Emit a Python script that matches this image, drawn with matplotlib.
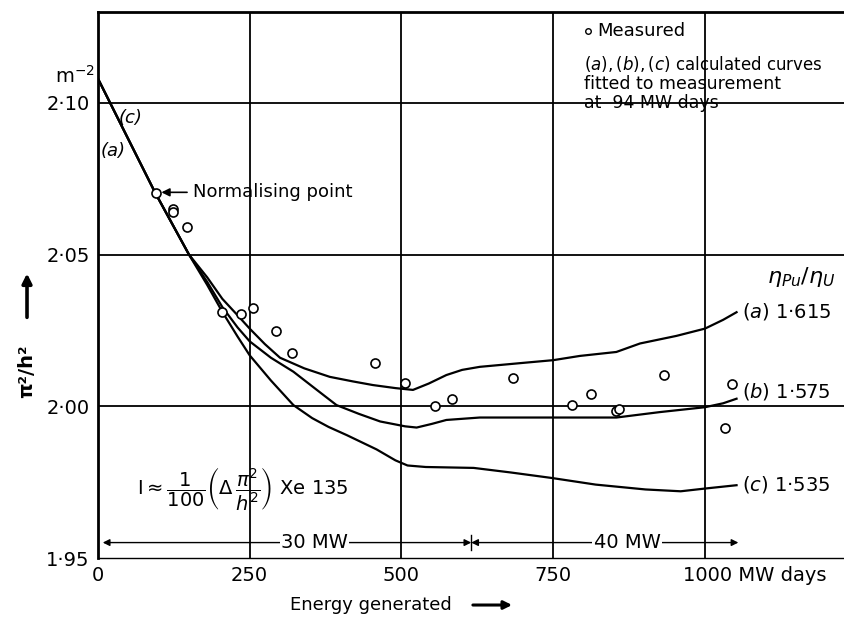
import numpy as np
import matplotlib.pyplot as plt
from matplotlib.patches import FancyArrowPatch
from matplotlib.transforms import ScaledTranslation

plt.rcParams['font.family'] = ['DejaVu Sans']
plt.rcParams['mathtext.fontset'] = 'dejavusans'

# Gemessene Punkte (MW-Tage, pi^2/h^2 in m^-2)
meas_E = [95, 123, 124, 147, 205, 236, 255, 294, 320, 456, 506, 555, 583,
          684, 781, 812, 854, 858, 933, 1033, 1044]
meas_Y = [2.0704, 2.0651, 2.0640, 2.0590, 2.0310, 2.0305, 2.0324, 2.0247,
          2.0175, 2.0144, 2.0078, 2.0002, 2.0024, 2.0092, 2.0003, 2.0040,
          1.9985, 1.9992, 2.0103, 1.9930, 2.0075]

# Berechnete Kurven (a), (b), (c)
a_E = [0, 94, 150, 180, 205, 230, 250, 275, 300, 340, 382, 420, 453, 490,
       519, 545, 574, 600, 629, 700, 750, 794, 854, 893, 953, 1000, 1030, 1052]
a_Y = [2.108, 2.0705, 2.050, 2.0425, 2.0354, 2.0300, 2.0256, 2.0205, 2.0160,
       2.0125, 2.0097, 2.0082, 2.0070, 2.0060, 2.0054, 2.0075, 2.0103, 2.0120,
       2.0130, 2.0143, 2.0152, 2.0166, 2.0179, 2.0207, 2.0232, 2.0256, 2.0285,
       2.0310]

b_E = [0, 94, 150, 180, 205, 230, 250, 285, 322, 360, 393, 430, 465, 506,
       525, 550, 574, 629, 794, 854, 926, 1000, 1030, 1052]
b_Y = [2.108, 2.0705, 2.050, 2.041, 2.0327, 2.0260, 2.0214, 2.0160, 2.0114,
       2.0055, 2.0004, 1.9975, 1.9950, 1.9934, 1.9930, 1.9942, 1.9955, 1.9963,
       1.9963, 1.9963, 1.9981, 1.9997, 2.0010, 2.0025]

c_E = [0, 94, 150, 180, 205, 230, 250, 285, 322, 353, 380, 410, 459, 490,
       510, 540, 619, 680, 747, 820, 902, 960, 1000, 1052]
c_Y = [2.108, 2.0705, 2.050, 2.040, 2.0311, 2.0230, 2.0168, 2.0085, 2.0004,
       1.9961, 1.9932, 1.9905, 1.9858, 1.9822, 1.9805, 1.9800, 1.9797, 1.9782,
       1.9764, 1.9742, 1.9726, 1.9720, 1.9729, 1.9740]

xticks = [0, 250, 500, 750, 1000]
xlabels = ['0', '250', '500', '750', '1000 MW days']
yticks = [1.95, 2.00, 2.05, 2.10]
ylabels = ['1·95', '2·00', '2·05', '2·10']

fig = plt.figure(figsize=(8.44, 6.18), dpi=100)
ax = fig.add_axes([0.116, 0.097, 0.884, 0.884])

# Gitter
for x in xticks[1:]:
    ax.axvline(x, color='black', lw=1.3, zorder=1)
for y in yticks[1:]:
    ax.axhline(y, color='black', lw=1.3, zorder=1)

ax.plot(a_E, a_Y, color='black', lw=1.6, zorder=2)
ax.plot(b_E, b_Y, color='black', lw=1.6, zorder=2)
ax.plot(c_E, c_Y, color='black', lw=1.6, zorder=2)
ax.plot(meas_E, meas_Y, 'o', ms=6.5, mfc='white', mec='black', mew=1.2, zorder=3)

ax.set_xlim(0, 1229)
ax.set_ylim(1.95, 2.13)
ax.set_xticks(xticks)
ax.set_xticklabels(xlabels, fontsize=14)
ax.set_yticks(yticks)
ax.set_yticklabels(ylabels, fontsize=14)
ax.tick_params(length=0, pad=6)
last = ax.get_xticklabels()[-1]
last.set_horizontalalignment('left')
last.set_transform(last.get_transform() + ScaledTranslation(-0.22, 0, fig.dpi_scale_trans))
ax.spines['right'].set_visible(False)
ax.spines['left'].set_linewidth(2)
ax.spines['top'].set_linewidth(2)
ax.spines['bottom'].set_linewidth(1)

ax.text(-38, 2.109, r'm$^{-2}$', fontsize=14, ha='center', va='center', clip_on=False)

# Beschriftungen der Kurven
ax.text(53, 2.095, '(c)', fontsize=13, style='italic', ha='center', va='center')
ax.text(25, 2.084, '(a)', fontsize=13, style='italic', ha='center', va='center')
ax.text(1061, 2.0311, r'$\mathit{(a)}$ 1·615', fontsize=14, ha='left', va='center')
ax.text(1061, 2.0049, r'$\mathit{(b)}$ 1·575', fontsize=14, ha='left', va='center')
ax.text(1061, 1.9741, r'$\mathit{(c)}$ 1·535', fontsize=14, ha='left', va='center')
ax.text(1215, 2.0426, r'$\eta_{Pu}/\eta_{U}$', fontsize=16, ha='right', va='center')

ax.annotate('Normalising point', xy=(100, 2.0705), xytext=(156, 2.0705),
            fontsize=13, ha='left', va='center',
            arrowprops=dict(arrowstyle='-|>', color='black', lw=1.2,
                            mutation_scale=12, shrinkA=2, shrinkB=2))

ax.text(64, 1.973, r'$\mathrm{I}\approx\dfrac{1}{100}\left(\Delta\,\dfrac{\pi^2}{h^2}\right)$ Xe 135',
        fontsize=14, ha='left', va='center')

# Legende oben rechts
ax.plot([808], [2.1235], 'o', ms=4, mfc='white', mec='black', mew=1, clip_on=False)
ax.text(822, 2.1235, 'Measured', fontsize=13, ha='left', va='center')
ax.text(800, 2.1128, r'$\mathit{(a),(b),(c)}$ calculated curves', fontsize=12,
        ha='left', va='center')
ax.text(800, 2.1063, 'fitted to measurement', fontsize=12.5, ha='left', va='center')
ax.text(800, 2.0998, 'at  94 MW days', fontsize=12.5, ha='left', va='center')

# Leistungsbereiche
y_arr = 1.9551
split = 615
ax.annotate('', xy=(8, y_arr), xytext=(split, y_arr),
            arrowprops=dict(arrowstyle='<|-|>', color='black', lw=1.0,
                            mutation_scale=10, shrinkA=0, shrinkB=0))
ax.annotate('', xy=(split, y_arr), xytext=(1055, y_arr),
            arrowprops=dict(arrowstyle='<|-|>', color='black', lw=1.0,
                            mutation_scale=10, shrinkA=0, shrinkB=0))
ax.plot([split, split], [y_arr - 0.0025, y_arr + 0.0025], color='black', lw=1)
ax.text(357, y_arr, '30 MW', fontsize=14, ha='center', va='center',
        bbox=dict(facecolor='white', edgecolor='none', pad=1))
ax.text(872, y_arr, '40 MW', fontsize=14, ha='center', va='center',
        bbox=dict(facecolor='white', edgecolor='none', pad=1))

# Achsentitel
fig.text(0.344, 0.021, 'Energy generated', fontsize=13, ha='left', va='center')
fig.patches.append(FancyArrowPatch(
    (0.557, 0.021), (0.610, 0.021), transform=fig.transFigure,
    arrowstyle='-|>', mutation_scale=12, lw=2.2, color='black'))
fig.text(0.032, 0.40, 'π²/h²', fontsize=14, fontweight='bold', rotation=90,
         ha='center', va='center')
fig.patches.append(FancyArrowPatch(
    (0.032, 0.482), (0.032, 0.562), transform=fig.transFigure,
    arrowstyle='-|>', mutation_scale=14, lw=2.6, color='black'))

fig.savefig('out.png', dpi=100)
